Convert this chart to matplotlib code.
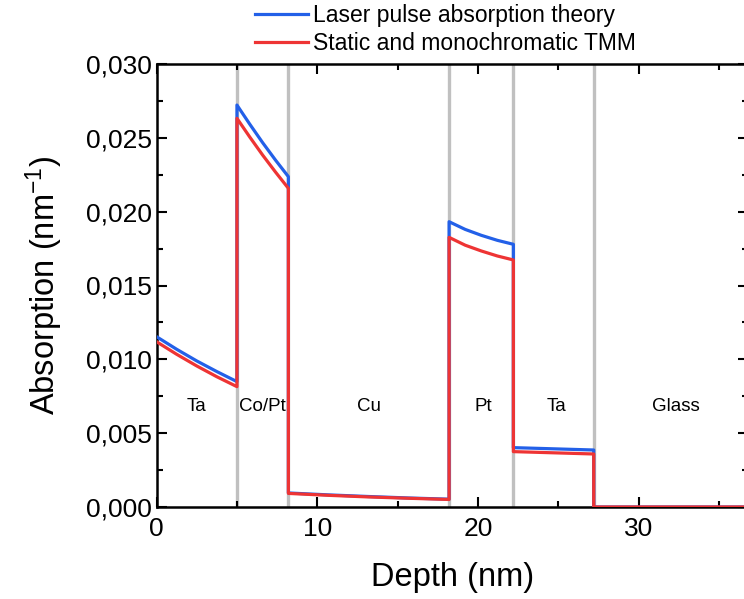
import matplotlib
matplotlib.use("Agg")
import matplotlib.pyplot as plt
from matplotlib.ticker import FuncFormatter, MultipleLocator

plt.rcParams["font.family"] = ["Liberation Sans", "DejaVu Sans"]
plt.rcParams["mathtext.default"] = "regular"

# layer boundaries (nm) and names
boundaries = [5.0, 8.2, 18.2, 22.2, 27.2]
layer_names = ["Ta", "Co/Pt", "Cu", "Pt", "Ta", "Glass"]
layer_label_x = [2.5, 6.6, 13.2, 20.3, 24.9, 32.3]

# depth samples, with repeated x at each interface for the jumps
depth = [0.0, 1.25, 2.5, 3.75, 5.0,
         5.0, 5.8, 6.6, 7.4, 8.2,
         8.2, 10.7, 13.2, 15.7, 18.2,
         18.2, 19.2, 20.2, 21.2, 22.2,
         22.2, 23.45, 24.7, 25.95, 27.2,
         27.2, 36.8]

laser_pulse = [0.01153, 0.01068, 0.00989, 0.00917, 0.00849,
               0.02722, 0.02592, 0.02467, 0.02349, 0.02237,
               0.00095, 0.00082, 0.00071, 0.00061, 0.00053,
               0.01932, 0.01880, 0.01840, 0.01806, 0.01779,
               0.00402, 0.00398, 0.00394, 0.00390, 0.00386,
               0.0, 0.0]

static_tmm = [0.01119, 0.01034, 0.00955, 0.00882, 0.00815,
              0.02632, 0.02505, 0.02383, 0.02268, 0.02158,
              0.00092, 0.00079, 0.00068, 0.00059, 0.00051,
              0.01826, 0.01773, 0.01734, 0.01700, 0.01673,
              0.00375, 0.00371, 0.00367, 0.00363, 0.00359,
              0.0, 0.0]

BLUE = "#2360e8"
RED = "#ee3434"
W, H = 744, 599

fig = plt.figure(figsize=(W / 100, H / 100), dpi=100)
ax = fig.add_axes([156.6 / W, 1 - 507 / H, (748 - 156.6) / W, (507 - 64) / H])

for xb in boundaries:
    ax.axvline(xb, color="#c0c0c0", lw=2.4, zorder=1)

ax.plot(depth, laser_pulse, color=BLUE, lw=2.3, label="Laser pulse absorption theory", zorder=3)
ax.plot(depth, static_tmm, color=RED, lw=2.3, label="Static and monochromatic TMM", zorder=4)

for name, xc in zip(layer_names, layer_label_x):
    ax.text(xc, 0.0068, name, ha="center", va="center", fontsize=13.5)

ax.set_xlim(0, 36.8)
ax.set_ylim(0, 0.030)
ax.xaxis.set_major_locator(MultipleLocator(10))
ax.xaxis.set_minor_locator(MultipleLocator(5))
ax.yaxis.set_major_locator(MultipleLocator(0.005))
ax.yaxis.set_minor_locator(MultipleLocator(0.0025))
ax.yaxis.set_major_formatter(FuncFormatter(lambda v, _: f"{v:.3f}".replace(".", ",")))

ax.tick_params(which="both", direction="in", top=True, right=True, width=1.5, labelsize=19)
ax.tick_params(which="major", length=7)
ax.tick_params(which="minor", length=4)
ax.tick_params(axis="x", pad=7)
for spine in ax.spines.values():
    spine.set_linewidth(1.8)

ax.set_xlabel("Depth (nm)", fontsize=23.5, labelpad=15)
ax.set_ylabel("Absorption (nm$^{-1}$)", fontsize=23.5, labelpad=15)

fig.legend(loc="upper left", bbox_to_anchor=(255 / W, 1 - 4 / H), frameon=False,
           fontsize=16.5, handlelength=2.3, handletextpad=0.25, labelspacing=0.2,
           borderpad=0, borderaxespad=0)

fig.savefig("out.png", dpi=100)
